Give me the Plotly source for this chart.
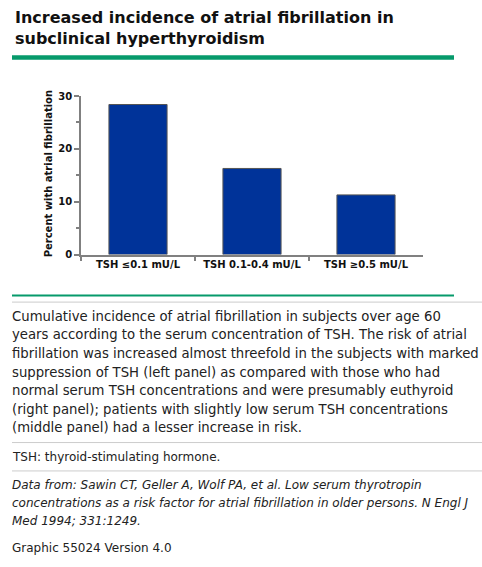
import plotly.graph_objects as go

W, H = 482, 567

categories = ["TSH \u22640.1 mU/L", "TSH 0.1-0.4 mU/L", "TSH \u22650.5 mU/L"]
percent_af = [28.4, 16.3, 11.3]
y_ticks = [0, 10, 20, 30]

title_lines = ["Increased incidence of atrial fibrillation in",
               "subclinical hyperthyroidism"]
caption_lines = [
    "Cumulative incidence of atrial fibrillation in subjects over age 60",
    "years according to the serum concentration of TSH. The risk of atrial",
    "fibrillation was increased almost threefold in the subjects with marked",
    "suppression of TSH (left panel) as compared with those who had",
    "normal serum TSH concentrations and were presumably euthyroid",
    "(right panel); patients with slightly low serum TSH concentrations",
    "(middle panel) had a lesser increase in risk.",
]
abbrev_line = "TSH: thyroid-stimulating hormone."
source_lines = [
    "Data from: Sawin CT, Geller A, Wolf PA, et al. Low serum thyrotropin",
    "concentrations as a risk factor for atrial fibrillation in older persons. N Engl J",
    "Med 1994; 331:1249.",
]
graphic_line = "Graphic 55024 Version 4.0"

FONT = "DejaVu Sans"
GREEN = "#069a6b"


def fx(px):
    return px / W


def fy(py):
    return 1 - py / H


fig = go.Figure()
fig.add_trace(go.Bar(
    x=categories, y=percent_af, width=0.51,
    marker=dict(color="#003399", line=dict(color="#555555", width=1)),
    hoverinfo="skip",
))

annotations = []


def text_at(txt, x, y, size, bold=False, italic=False, color="#222222", angle=0, xanchor="left"):
    if bold:
        txt = f"<b>{txt}</b>"
    if italic:
        txt = f"<i>{txt}</i>"
    annotations.append(dict(
        text=txt, x=fx(x), y=fy(y), xref="paper", yref="paper",
        xanchor=xanchor, yanchor="middle", showarrow=False, textangle=angle,
        font=dict(family=FONT, size=size, color=color),
    ))


for i, line in enumerate(title_lines):
    text_at(line, 13, 12 + i * 21.5, 16, bold=True, color="#111111")
text_at("Percent with atrial fibrillation", 48, 172, 10, bold=True, color="#111111",
        angle=-90, xanchor="center")
for i, line in enumerate(caption_lines):
    text_at(line, 10, 317 + i * 19, 13.25)
text_at(abbrev_line, 10, 460.5, 12)
for i, line in enumerate(source_lines):
    text_at(line, 10, 489.5 + i * 18.3, 12, italic=True)
text_at(graphic_line, 10, 554, 12)

shapes = []


def hline(y, x0, x1, color, width):
    shapes.append(dict(type="line", xref="paper", yref="paper",
                       x0=fx(x0), x1=fx(x1), y0=fy(y), y1=fy(y),
                       line=dict(color=color, width=width)))


hline(52.5, 12, 454, GREEN, 4.5)
hline(295.8, 12, 454, GREEN, 2)
hline(302.5, 12, 482, "#cccccc", 1)
hline(446, 12, 482, "#cccccc", 1)
hline(475, 12, 482, "#cccccc", 1)

axis_color = "#808080"
fig.update_layout(
    width=W, height=H,
    margin=dict(l=0, r=0, t=0, b=0),
    paper_bgcolor="white", plot_bgcolor="white",
    showlegend=False,
    annotations=annotations,
    shapes=shapes,
    font=dict(family=FONT, color="#111111"),
    xaxis=dict(
        domain=[fx(81), fx(423)], range=[-0.5, 2.5],
        showline=True, linecolor=axis_color, linewidth=1.5,
        ticks="outside", tickson="boundaries", ticklen=5, tickcolor=axis_color, tickwidth=1.5,
        showgrid=False, zeroline=False,
        tickfont=dict(family=FONT, size=10, color="#111111"),
        tickprefix="<b>", ticksuffix="</b>",
    ),
    yaxis=dict(
        domain=[fy(254), fy(92)], range=[0, 30],
        tickvals=y_ticks, ticktext=[f"<b>{v}</b>" for v in y_ticks],
        showline=True, linecolor=axis_color, linewidth=1.5,
        ticks="outside", ticklen=5, tickcolor=axis_color, tickwidth=1.5,
        minor=dict(ticks="outside", dtick=5, ticklen=3, tickcolor=axis_color, tickwidth=1.5),
        showgrid=False, zeroline=False,
        tickfont=dict(family=FONT, size=10, color="#111111"),
    ),
)

# the page has default margins; drop them so the figure fills the window exactly
page_fix = (
    "var s=document.createElement('style');"
    "s.textContent='html,body{margin:0;padding:0;overflow:hidden;}';"
    "document.head.appendChild(s);"
)
fig.write_html("out.html", config={"displayModeBar": False}, post_script=page_fix)
